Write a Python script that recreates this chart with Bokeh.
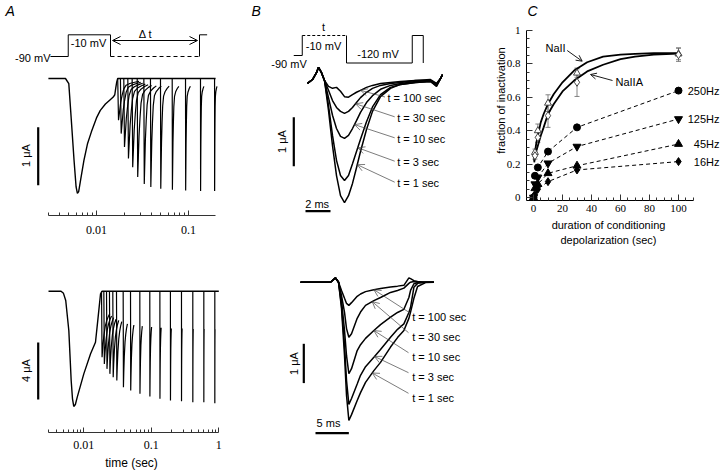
import math
import numpy as np
from bokeh.plotting import figure
from bokeh.layouts import row, column
from bokeh.models import (Range1d, Label, Arrow, OpenHead, TeeHead, Whisker, LinearAxis,
                          ColumnDataSource, FixedTicker, CustomJSTickFormatter)
from bokeh.embed import file_html
from bokeh.resources import INLINE

SANS = "Liberation Sans"
SERIF = "Liberation Serif"

# ---------------- DATA ----------------
# Panel A (top): conditioning trace (time s, current uA)
a1_cond_t = [0.0030, 0.0046, 0.0050, 0.0053, 0.0057, 0.0060, 0.0062, 0.0064, 0.0067, 0.0073,
             0.0080, 0.0088, 0.0100, 0.0110, 0.0125, 0.0140, 0.0152, 0.0158, 0.0162, 0.0166,
             0.0170, 0.197]
a1_cond_i = [0, 0, -0.09, -0.67, -1.41, -1.87, -1.98, -1.95, -1.76, -1.41,
             -1.12, -0.92, -0.68, -0.55, -0.44, -0.37, -0.32, -0.28, -0.16, -0.06,
             0, 0]
# test pulses: onset time (s) and peak current (uA)
a1_test_t = [0.0170, 0.0182, 0.0198, 0.0219, 0.0244, 0.0277, 0.0327, 0.0386, 0.0496,
             0.0665, 0.0928, 0.135, 0.192]
a1_test_peak = [-0.72, -0.95, -1.18, -1.38, -1.53, -1.70, -1.82, -1.87, -1.90,
                -1.92, -1.93, -1.94, -1.94]
a1_spike_dt_ms = [0, 0.35, 0.8, 1.3, 2.0, 2.8, 4.0, 6.0, 9.0, 12.0]
a1_spike_frac = [0, 1.0, 0.80, 0.58, 0.40, 0.25, 0.16, 0.12, 0.09, 0.07]
a1_major = [0.01, 0.1]
a1_minor = [0.003, 0.004, 0.005, 0.006, 0.007, 0.008, 0.009,
            0.02, 0.03, 0.04, 0.05, 0.06, 0.07, 0.08, 0.09]
a1_axis_bounds = (0.003, 0.197)
# protocol (time s, mV)
a1_proto1_t = [0.00316, 0.00493, 0.00493, 0.0142, 0.0142]
a1_proto1_v = [-90, -90, -10, -10, -90]
a1_proto_dash_t = [0.0142, 0.1317]
a1_proto_dash_v = [-90, -90]
a1_proto2_t = [0.1317, 0.1317, 0.1594]
a1_proto2_v = [-90, -10, -10]
a1_scale_uA = 1

# Panel A (bottom)
a2_cond_t = [0.0030, 0.0046, 0.0050, 0.0054, 0.0060, 0.0065, 0.0068, 0.0071, 0.0075, 0.0080,
             0.0100, 0.0126, 0.0149, 0.0161, 0.0177, 0.0187, 1.0]
a2_cond_i = [0, 0, -0.15, -0.65, -2.76, -6.27, -7.55, -8.09, -7.95, -7.43,
             -5.80, -4.39, -3.58, -2.06, -0.18, 0, 0]
a2_test_t = [0.0183, 0.0198, 0.0217, 0.0240, 0.0269, 0.0305, 0.0383, 0.0492, 0.0676,
             0.095, 0.134, 0.192, 0.280, 0.412, 0.600, 0.873]
a2_test_peak = [-4.63, -5.10, -5.45, -5.80, -6.03, -6.27, -6.74, -6.97, -7.20,
                -7.39, -7.55, -7.67, -7.72, -7.79, -7.79, -7.86]
a2_spike_dt_ms = [0, 0.35, 0.8, 1.5, 2.5, 3.5, 4.6, 6.0]
a2_spike_frac = [0, 1.0, 0.85, 0.68, 0.53, 0.45, 0.39, 0.34]
a2_major = [0.01, 0.1, 1]
a2_minor = [0.003, 0.004, 0.005, 0.006, 0.007, 0.008, 0.009,
            0.02, 0.03, 0.04, 0.05, 0.06, 0.07, 0.08, 0.09,
            0.2, 0.3, 0.4, 0.5, 0.6, 0.7, 0.8, 0.9]
a2_axis_bounds = (0.003, 1.0)
a2_scale_uA = 4

# Panel B: conditioning durations (sec)
b_durations = [100, 30, 10, 3, 1]
# B top traces (ms, uA)
bt_ms = [0.56, 0.96, 1.28, 1.44, 1.68, 1.92, 2.24, 2.56, 2.88, 3.2, 3.52, 3.84, 4.16,
         4.48, 4.8, 5.28, 5.76, 6.4, 7.2, 8.0, 9.2, 10.4, 10.88, 11.2, 11.36]
bt_100 = [-0.06, 0.02, 0.16, 0.27, 0.16, 0.0, -0.12, -0.16, -0.14, -0.22, -0.33, -0.34, -0.29,
          -0.24, -0.20, -0.14, -0.10, -0.06, -0.04, -0.02, 0.0, 0.02, -0.06, 0.04, 0.12]
bt_30 = [-0.06, 0.02, 0.16, 0.27, 0.16, 0.0, -0.20, -0.41, -0.55, -0.63, -0.67, -0.63, -0.55,
         -0.45, -0.35, -0.24, -0.16, -0.10, -0.06, -0.04, 0.0, 0.0, -0.07, 0.04, 0.12]
bt_10 = [-0.06, 0.02, 0.16, 0.27, 0.16, 0.0, -0.35, -0.71, -0.98, -1.14, -1.18, -1.12, -0.98,
         -0.82, -0.65, -0.45, -0.31, -0.18, -0.10, -0.06, -0.02, 0.0, -0.09, 0.04, 0.12]
bt_3 = [-0.06, 0.02, 0.16, 0.27, 0.16, 0.0, -0.51, -1.12, -1.63, -1.94, -2.04, -1.94, -1.70,
        -1.45, -1.20, -0.84, -0.54, -0.29, -0.14, -0.08, -0.04, -0.02, -0.11, 0.04, 0.12]
bt_1 = [-0.06, 0.02, 0.16, 0.27, 0.16, 0.0, -0.61, -1.33, -1.94, -2.35, -2.49, -2.35, -2.10,
        -1.78, -1.45, -1.00, -0.63, -0.33, -0.16, -0.08, -0.04, -0.02, -0.12, 0.04, 0.12]
bt_tip_ms = [4.8, 4.4, 4.32, 4.58, 4.54]
b1_proto1_ms = [-0.54, 0.14, 0.14]
b1_proto1_v = [-90, -90, -10]
b1_proto_dash_ms = [0.14, 3.68]
b1_proto_dash_v = [-10, -10]
b1_proto2_ms = [3.68, 3.68, 8.94, 8.94, 9.82, 9.82]
b1_proto2_v = [-10, -120, -120, -10, -10, -120]
b1_scale_uA = 1
b1_scale_ms = 2

# B bottom traces (ms, uA)
bb_ms = [0, 4.5, 5.25, 5.7, 6.15, 6.6, 6.9, 7.25, 7.65, 8.5, 9.0, 9.75, 11.0, 12.0, 13.5,
         14.55, 15.5, 16.25, 16.5, 17.0, 17.55, 18.75, 20.0]
bb_100 = [0, 0, 0.11, 0, -0.21, -0.41, -0.54, -0.59, -0.52, -0.36, -0.30, -0.24, -0.19, -0.16,
          -0.12, -0.10, -0.08, 0.11, 0.09, 0.04, 0.02, 0, 0]
bb_30 = [0, 0, 0.11, 0, -0.34, -0.77, -1.18, -1.40, -1.31, -0.92, -0.76, -0.59, -0.47, -0.39,
         -0.26, -0.21, -0.15, -0.03, 0, 0.02, 0, 0, 0]
bb_10 = [0, 0, 0.11, 0, -0.47, -1.23, -1.87, -2.33, -2.20, -1.74, -1.59, -1.43, -1.23, -1.08,
         -0.89, -0.77, -0.69, -0.39, -0.21, -0.04, -0.01, 0, 0]
bb_3 = [0, 0, 0.11, 0, -0.59, -1.61, -2.50, -3.11, -2.96, -2.59, -2.37, -2.15, -1.91, -1.71,
        -1.40, -1.20, -1.06, -0.77, -0.64, -0.13, -0.03, 0, 0]
bb_1 = [0, 0, 0.11, 0, -0.67, -1.87, -2.88, -3.52, -3.37, -3.01, -2.81, -2.55, -2.25, -2.04,
        -1.65, -1.41, -1.23, -0.92, -0.76, -0.41, -0.11, -0.01, 0]
bb_tip_ms = [11.0, 10.75, 11.0, 11.1, 10.75]
b2_scale_uA = 1
b2_scale_ms = 5

# Panel C: fraction of inactivation vs conditioning duration (sec)
c_x = [1, 3, 10, 30, 100]
c_naii = [0.27, 0.40, 0.565, 0.745, 0.86]
c_naii_err = [0.02, 0.04, 0.05, 0.025, 0.035]
c_naiia = [0.25, 0.36, 0.49, 0.69, 0.855]
c_naiia_err = [0.02, 0.03, 0.07, 0.085, 0.04]
c_fit_x = [0.5, 1, 2, 3, 5, 7, 10, 14, 20, 28, 37, 48, 60, 70, 83, 100]
c_fit_naii = [0.22, 0.27, 0.33, 0.37, 0.45, 0.50, 0.56, 0.62, 0.69, 0.76, 0.81, 0.844,
              0.856, 0.86, 0.864, 0.864]
c_fit_naiia = [0.21, 0.24, 0.28, 0.31, 0.37, 0.42, 0.50, 0.56, 0.635, 0.70, 0.755, 0.795,
               0.828, 0.843, 0.856, 0.862]
c_freq_x = [0, 1, 3, 10, 30, 100]
c_freq_labels = ["250Hz", "125Hz", "45Hz", "16Hz"]
c_freq_markers = ["circle", "inverted_triangle", "triangle", "diamond"]
c_freq_vals = [
    [0, 0.13, 0.18, 0.275, 0.42, 0.64],
    [0, 0.08, 0.12, 0.205, 0.305, 0.47],
    [0, 0.055, 0.08, 0.145, 0.19, 0.32],
    [0, 0.02, 0.05, 0.095, 0.165, 0.215],
]
c_x_major = [0, 20, 40, 60, 80, 100]
c_x_minor = [5, 10, 15, 25, 30, 35, 45, 50, 55, 65, 70, 75, 85, 90, 95, 105, 110]
c_y_major = [0, 0.2, 0.4, 0.6, 0.8, 1.0]
c_y_minor = [0.05, 0.1, 0.15, 0.25, 0.3, 0.35, 0.45, 0.5, 0.55, 0.65, 0.7, 0.75,
             0.85, 0.9, 0.95]


# ---------------- helpers ----------------
def linmap(v0, p0, v1, p1):
    k = (v1 - v0) / (p1 - p0)
    return lambda p: v0 + (p - p0) * k


def logmap(v0, p0, v1, p1):
    a0, a1 = math.log10(v0), math.log10(v1)
    k = (a1 - a0) / (p1 - p0)
    return lambda p: 10 ** (a0 + (p - p0) * k)


def make_fig(origin, size, frame, fx, fy, x_type="linear", x_axis=False, y_axis=False):
    ox, oy = origin
    w, h = size
    l, r, t, b = frame
    p = figure(width=w, height=h,
               x_range=Range1d(fx(l), fx(r)), y_range=Range1d(fy(b), fy(t)),
               x_axis_type=x_type,
               x_axis_location="below" if x_axis else None,
               y_axis_location="left" if y_axis else None,
               toolbar_location=None, output_backend="svg",
               min_border_left=l - ox, min_border_right=ox + w - r,
               min_border_top=t - oy, min_border_bottom=oy + h - b)
    p.outline_line_color = None
    p.grid.visible = False
    p.background_fill_color = "white"
    p.border_fill_color = "white"
    return p


def style_axis(ax, ticks, minor, standoff, size="12px"):
    ax.ticker = FixedTicker(ticks=ticks, minor_ticks=minor)
    ax.formatter = CustomJSTickFormatter(code="return String(Number(tick.toPrecision(4)));")
    ax.major_label_text_font = SERIF
    ax.major_label_text_font_size = size
    ax.major_label_text_color = "black"
    ax.major_label_standoff = standoff
    ax.major_tick_in = 5
    ax.major_tick_out = 0
    ax.minor_tick_in = 3
    ax.minor_tick_out = 0
    ax.axis_line_color = "#333333"
    ax.major_tick_line_color = "#333333"
    ax.minor_tick_line_color = "#333333"
    ax.axis_label_text_font = SANS
    ax.axis_label_text_font_style = "normal"
    ax.axis_label_text_color = "black"


def text_axis(p, pos, text, standoff, side="below", size="12px"):
    """An extra axis without line or ticks that only carries one text at a data position."""
    ax = LinearAxis(ticker=FixedTicker(ticks=[pos], minor_ticks=[]),
                    formatter=CustomJSTickFormatter(args=dict(txt=text), code="return txt;"),
                    axis_line_color=None, major_tick_line_color=None,
                    minor_tick_line_color=None, major_tick_in=0, major_tick_out=0,
                    minor_tick_in=0, minor_tick_out=0,
                    major_label_standoff=standoff, major_label_text_font=SANS,
                    major_label_text_font_size=size, major_label_text_color="black")
    p.add_layout(ax, side)
    return ax


def label(p, x, y, text, size=11, align="left", angle=0.0, style="normal", font=SANS):
    p.add_layout(Label(x=x, y=y, text=text, text_font=font, text_font_size=f"{size}px",
                       text_align=align, text_baseline="middle", angle=angle,
                       text_font_style=style, text_color="black"))


def arrow(p, x0, y0, x1, y1, head=True, width=0.8, color="#333333", start_head=False, hsize=6):
    p.add_layout(Arrow(x_start=x0, y_start=y0, x_end=x1, y_end=y1,
                       end=OpenHead(size=hsize, line_width=width, line_color=color) if head else None,
                       start=OpenHead(size=hsize, line_width=width, line_color=color) if start_head else None,
                       line_width=width, line_color=color))


def spikes(times, peaks, dt_ms, frac):
    xs = [[t + d / 1000.0 for d in dt_ms] for t in times]
    ys = [[pk * f for f in frac] for pk in peaks]
    return xs, ys


# ---------------- Panel A top ----------------
fxa1 = logmap(0.01, 96, 0.1, 188)
fya1 = linmap(0, 78, -1, 136)
fmva1 = linmap(-90, 56, -10, 34.3)
a1 = make_fig((0, 0), (248, 240), (0, 248, 0, 215), fxa1, fya1, x_type="log", x_axis=True)
a1.extra_y_ranges = {"mv": Range1d(fmva1(215), fmva1(0))}
style_axis(a1.xaxis[0], a1_major, a1_minor, 10)
a1.xaxis[0].bounds = a1_axis_bounds
a1.line(a1_cond_t, a1_cond_i, line_color="black", line_width=1.4)
xs, ys = spikes(a1_test_t, a1_test_peak, a1_spike_dt_ms, a1_spike_frac)
a1.multi_line(xs, ys, line_color="black", line_width=1.2)
a1.line(a1_proto1_t, a1_proto1_v, y_range_name="mv", line_color="black", line_width=1)
a1.line(a1_proto_dash_t, a1_proto_dash_v, y_range_name="mv", line_color="black",
        line_width=1, line_dash="4 3")
a1.line(a1_proto2_t, a1_proto2_v, y_range_name="mv", line_color="black", line_width=1)
arrow(a1, fxa1(112), fya1(40), fxa1(197), fya1(40), start_head=True, width=1.0,
      color="black", hsize=8)
label(a1, fxa1(145), fya1(33), "Δ t", size=11, align="center")
label(a1, fxa1(88), fya1(42), "-10 mV", size=11, align="center")
label(a1, fxa1(50), fya1(57), "-90 mV", size=11, align="right")
label(a1, fxa1(5), fya1(10), "A", size=14, style="italic")
y0 = fya1(126.7)
arrow(a1, fxa1(37.7), y0, fxa1(37.7), y0 - a1_scale_uA, head=False, width=2.2, color="black")
label(a1, fxa1(25), fya1(155), f"{a1_scale_uA} μA", size=11, align="center", angle=math.pi / 2)

# ---------------- Panel A bottom ----------------
fxa2 = logmap(0.01, 83.3, 0.1, 150.8)
fya2 = linmap(0, 290.7, -1, 304.95)
a2 = make_fig((0, 240), (248, 234), (0, 248, 240, 432), fxa2, fya2, x_type="log", x_axis=True)
style_axis(a2.xaxis[0], a2_major, a2_minor, 8)
a2.xaxis[0].bounds = a2_axis_bounds
text_axis(a2, fxa2(131), "time (sec)", 4, size="12px")
a2.line(a2_cond_t, a2_cond_i, line_color="black", line_width=1.4)
xs, ys = spikes(a2_test_t, a2_test_peak, a2_spike_dt_ms, a2_spike_frac)
a2.multi_line(xs, ys, line_color="black", line_width=1.2)
y0 = fya2(342)
arrow(a2, fxa2(37.7), y0, fxa2(37.7), y0 - a2_scale_uA, head=False, width=2.2, color="black")
label(a2, fxa2(25), fya2(370), f"{a2_scale_uA} μA", size=11, align="center", angle=math.pi / 2)

# ---------------- Panel B top ----------------
fxb1 = linmap(0, 300, 1, 312.5)
fyb1 = linmap(0, 80, -1, 129)
fmvb1 = linmap(-90, 55, -10, 35)
b1 = make_fig((248, 0), (230, 240), (248, 478, 0, 240), fxb1, fyb1)
b1.extra_y_ranges = {"mv": Range1d(fmvb1(240), fmvb1(0))}
b1_traces = [bt_100, bt_30, bt_10, bt_3, bt_1]
b1.multi_line([bt_ms] * 5, b1_traces, line_color="black", line_width=1.5)
b1.line(b1_proto1_ms, b1_proto1_v, y_range_name="mv", line_color="black", line_width=1)
b1.line(b1_proto_dash_ms, b1_proto_dash_v, y_range_name="mv", line_color="black",
        line_width=1, line_dash="3 2")
b1.line(b1_proto2_ms, b1_proto2_v, y_range_name="mv", line_color="black", line_width=1)
label(b1, fxb1(323), fyb1(26), "t", size=11, align="center")
label(b1, fxb1(323), fyb1(45), "-10 mV", size=11, align="center")
label(b1, fxb1(288.5), fyb1(63), "-90 mV", size=11, align="center")
label(b1, fxb1(377.5), fyb1(53), "-120 mV", size=11, align="center")
label(b1, fxb1(251), fyb1(10), "B", size=14, style="italic")
lab_x = [387, 396.7, 396.7, 396.7, 396.7]
lab_y = [97.5, 117.3, 138.3, 161.7, 182.7]
for d, tr, tip, lx, ly in zip(b_durations, b1_traces, bt_tip_ms, lab_x, lab_y):
    label(b1, fxb1(lx), fyb1(ly), f"t = {d} sec", size=11)
    arrow(b1, fxb1(lx - 2.5), fyb1(ly - 1), tip, float(np.interp(tip, bt_ms, tr)),
          width=0.7, color="#444444", hsize=7)
yb = fyb1(116.7)
b1.line([fxb1(293.3)] * 2, [yb, yb - b1_scale_uA], line_color="black", line_width=2.2)
label(b1, fxb1(281.5), fyb1(141), f"{b1_scale_uA} μA", size=11, align="center", angle=math.pi / 2)
xb = fxb1(305)
b1.line([xb, xb + b1_scale_ms], [fyb1(210.7)] * 2, line_color="black", line_width=2.2)
label(b1, fxb1(316.7), fyb1(203), f"{b1_scale_ms} ms", size=11, align="center")

# ---------------- Panel B bottom ----------------
fxb2 = linmap(0, 300, 1, 306.67)
fyb2 = linmap(0, 281.7, -1, 321)
b2 = make_fig((248, 240), (230, 234), (248, 478, 240, 474), fxb2, fyb2)
b2_traces = [bb_100, bb_30, bb_10, bb_3, bb_1]
b2.multi_line([bb_ms] * 5, b2_traces, line_color="black", line_width=1.5)
lab_y2 = [316, 336.7, 356.7, 376.7, 397.3]
for d, tr, tip, ly in zip(b_durations, b2_traces, bb_tip_ms, lab_y2):
    label(b2, fxb2(411.7), fyb2(ly), f"t = {d} sec", size=11)
    arrow(b2, fxb2(408), fyb2(ly - 4.5), tip, float(np.interp(tip, bb_ms, tr)),
          width=0.7, color="#444444", hsize=7)
yb = fyb2(343.3)
b2.line([fxb2(303.3)] * 2, [yb, yb - b2_scale_uA], line_color="black", line_width=2.2)
label(b2, fxb2(293.3), fyb2(363), f"{b2_scale_uA} μA", size=11, align="center", angle=math.pi / 2)
xb = fxb2(315)
b2.line([xb, xb + b2_scale_ms], [fyb2(432.7)] * 2, line_color="black", line_width=2.2)
label(b2, fxb2(328), fyb2(422.5), f"{b2_scale_ms} ms", size=11, align="center")

# ---------------- Panel C ----------------
fxc = linmap(0, 533, 100, 678)
fyc = linmap(0, 197, 1, 30)
c = make_fig((478, 0), (242, 250), (526, 720, 0, 200), fxc, fyc, x_axis=True, y_axis=True)
style_axis(c.xaxis[0], c_x_major, c_x_minor, 4, size="11px")
style_axis(c.yaxis[0], c_y_major, c_y_minor, 6, size="11px")
c.xaxis[0].bounds = (fxc(526), fxc(693))
c.yaxis[0].bounds = (fyc(200), 1.0)
for ax in (c.xaxis[0], c.yaxis[0]):
    ax.major_tick_in = 6
    ax.axis_line_color = "black"
    ax.axis_label_text_font_size = "11px"
c.yaxis[0].axis_label = "fraction of inactivation"
c.yaxis[0].axis_label_standoff = -3
text_axis(c, fxc(608), "duration of conditioning", 4, size="11px")
text_axis(c, fxc(608), "depolarization (sec)", 0, size="11px")
c.line(c_fit_x, c_fit_naii, line_color="black", line_width=1.8)
c.line(c_fit_x, c_fit_naiia, line_color="black", line_width=1.8)
for vals, mk in zip(c_freq_vals, c_freq_markers):
    c.line(c_freq_x[1:], vals[1:], line_color="black", line_width=1, line_dash="4 3")
    sz = 7 if mk == "circle" else 8
    c.scatter(c_freq_x, vals, marker=mk, size=sz, fill_color="black", line_color="black")
for ys_, err in ((c_naii, c_naii_err), (c_naiia, c_naiia_err)):
    src = ColumnDataSource(dict(base=c_x, upper=[v + e for v, e in zip(ys_, err)],
                                lower=[v - e for v, e in zip(ys_, err)]))
    c.add_layout(Whisker(source=src, base="base", upper="upper", lower="lower",
                         line_color="#666666", line_width=0.8,
                         upper_head=TeeHead(size=5, line_color="#666666", line_width=0.8),
                         lower_head=TeeHead(size=5, line_color="#666666", line_width=0.8)))
c.scatter(c_x, c_naii, marker="triangle", size=7, fill_color="white", line_color="#333333",
          line_width=0.9)
c.scatter(c_x, c_naiia, marker="diamond", size=8, fill_color="white", line_color="#333333",
          line_width=0.9)
for vals, name in zip(c_freq_vals, c_freq_labels):
    label(c, fxc(719), vals[-1], name, size=11, align="right")
label(c, fxc(545), fyc(47), "NaII", size=11)
arrow(c, fxc(566.7), fyc(50), fxc(581.7), fyc(60.7), width=0.9, color="black", hsize=6)
label(c, fxc(615), fyc(81.7), "NaIIA", size=11)
arrow(c, fxc(612), fyc(80), fxc(590), fyc(74), width=0.9, color="black", hsize=6)
label(c, fxc(527), fyc(10), "C", size=14, style="italic")

layout = row(column(a1, a2), column(b1, b2), c)
open("out.html", "w").write(file_html(layout, INLINE))
